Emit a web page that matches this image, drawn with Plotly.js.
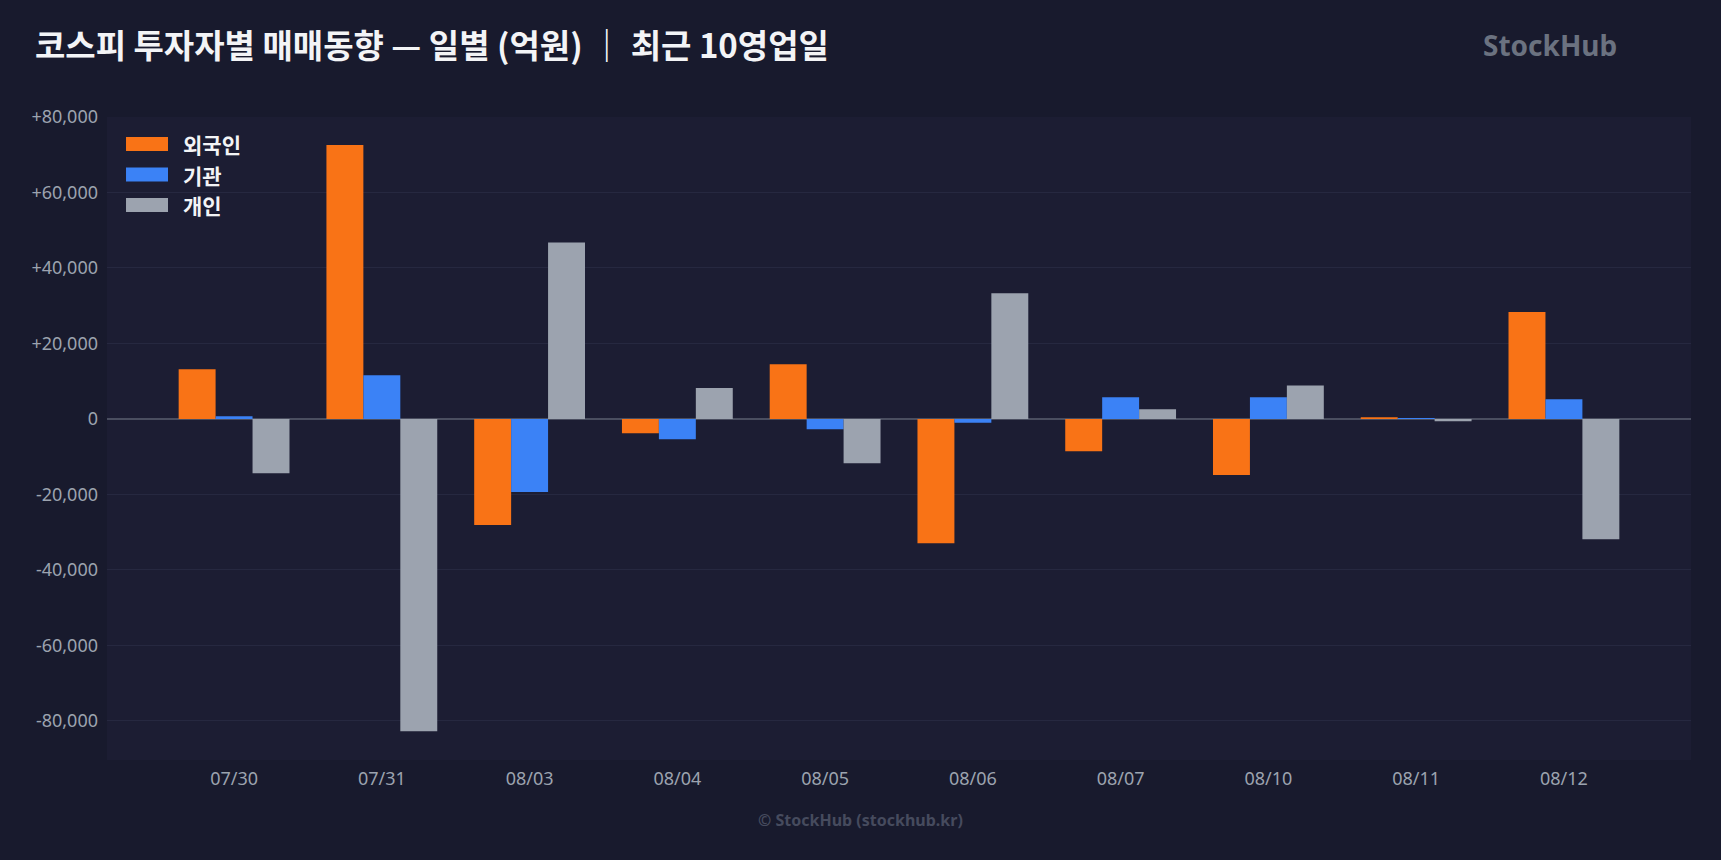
<!DOCTYPE html>
<html>
<head>
<meta charset="utf-8">
<script src="https://cdn.plot.ly/plotly-3.0.1.min.js"></script>
<style>
  html, body { margin: 0; padding: 0; background: #181a2d; }
  #chart { width: 1721px; height: 860px; }
</style>
</head>
<body>
<div id="chart"></div>
<script>
  // 코스피 투자자별 순매수 (억원), 최근 10영업일
  const dates = ['07/30', '07/31', '08/03', '08/04', '08/05', '08/06', '08/07', '08/10', '08/11', '08/12'];
  const seriesNames = ['외국인', '기관', '개인'];
  const seriesColors = ['#f97316', '#3b82f6', '#9ca3af'];
  const foreign = [13150, 72600, -28150, -3800, 14500, -32950, -8550, -14900, 450, 28300];
  const institution = [700, 11550, -19400, -5400, -2750, -1050, 5750, 5750, 200, 5200];
  const individual = [-14400, -82800, 46750, 8150, -11750, 33300, 2570, 8850, -600, -31900];
  const yTickVals = [80000, 60000, 40000, 20000, 0, -20000, -40000, -60000, -80000];
  const yTickText = ['+80,000', '+60,000', '+40,000', '+20,000', '0', '-20,000', '-40,000', '-60,000', '-80,000'];

  const seriesValues = [foreign, institution, individual];
  const fontBase = 'Noto Sans, "Noto Sans CJK KR", sans-serif';
  const fontKr = '"Noto Sans CJK KR", "Noto Sans", sans-serif';

  const traces = seriesNames.map((name, i) => ({
    type: 'bar',
    name,
    x: dates,
    y: seriesValues[i],
    marker: { color: seriesColors[i], line: { width: 0 } },
    showlegend: false,
    hovertemplate: name + ' %{x}: %{y:,}<extra></extra>',
  }));

  // legend drawn by hand so the swatches can be wide rectangles
  const legendY = [0.958, 0.9105, 0.863];
  const shapes = seriesNames.map((name, i) => ({
    type: 'rect',
    xref: 'paper', yref: 'paper',
    xsizemode: 'pixel', ysizemode: 'pixel',
    xanchor: 0.012, yanchor: legendY[i],
    x0: 0, x1: 42, y0: -7, y1: 7,
    fillcolor: seriesColors[i],
    line: { width: 0 },
  }));
  const annotations = seriesNames.map((name, i) => ({
    xref: 'paper', yref: 'paper',
    x: 0.047, y: legendY[i],
    xanchor: 'left', yanchor: 'middle',
    text: '<b>' + name + '</b>',
    showarrow: false,
    font: { family: fontKr, size: 21, color: '#f3f4f6' },
  }));

  annotations.push({
    xref: 'paper', yref: 'paper',
    x: 0.911, y: 1.112,
    xanchor: 'center', yanchor: 'middle',
    text: '<b>StockHub</b>',
    showarrow: false,
    font: { family: fontBase, size: 28, color: '#6b7280' },
  });
  annotations.push({
    xref: 'paper', yref: 'paper',
    x: 0.4754, y: -0.0933,
    xanchor: 'center', yanchor: 'middle',
    text: '<b>© StockHub (stockhub.kr)</b>',
    showarrow: false,
    font: { family: fontBase, size: 16, color: '#464b5e' },
  });

  const layout = {
    width: 1721,
    height: 860,
    paper_bgcolor: '#181a2d',
    plot_bgcolor: '#1c1d33',
    margin: { l: 107, r: 30, t: 117, b: 100 },
    title: {
      text: '<b>코스피 투자자별 매매동향 — 일별 (억원) ｜ 최근 10영업일</b>',
      xref: 'container', yref: 'container',
      x: 0.0203, y: 0.9465,
      xanchor: 'left', yanchor: 'middle',
      font: { family: fontKr, size: 33, color: '#f3f4f6' },
    },
    font: { family: fontBase, color: '#9ca3af', size: 18 },
    barmode: 'group',
    bargap: 0.25,
    bargroupgap: 0,
    xaxis: {
      type: 'category',
      range: [-0.86, 9.86],
      showgrid: false,
      zeroline: false,
      showline: false,
      ticks: '',
      ticklabelstandoff: 6,
      tickfont: { family: fontBase, size: 18, color: '#9ca3af' },
    },
    yaxis: {
      range: [-90400, 80000],
      tickvals: yTickVals,
      ticktext: yTickText,
      showgrid: true,
      gridcolor: '#262840',
      gridwidth: 1,
      zeroline: true,
      zerolinecolor: '#4a4e60',
      zerolinewidth: 2,
      showline: false,
      ticks: '',
      ticklabelstandoff: 8,
      tickfont: { family: fontBase, size: 18, color: '#9ca3af' },
    },
    shapes,
    annotations,
    showlegend: false,
  };

  Plotly.newPlot('chart', traces, layout, { displayModeBar: false, staticPlot: true });
</script>
</body>
</html>
